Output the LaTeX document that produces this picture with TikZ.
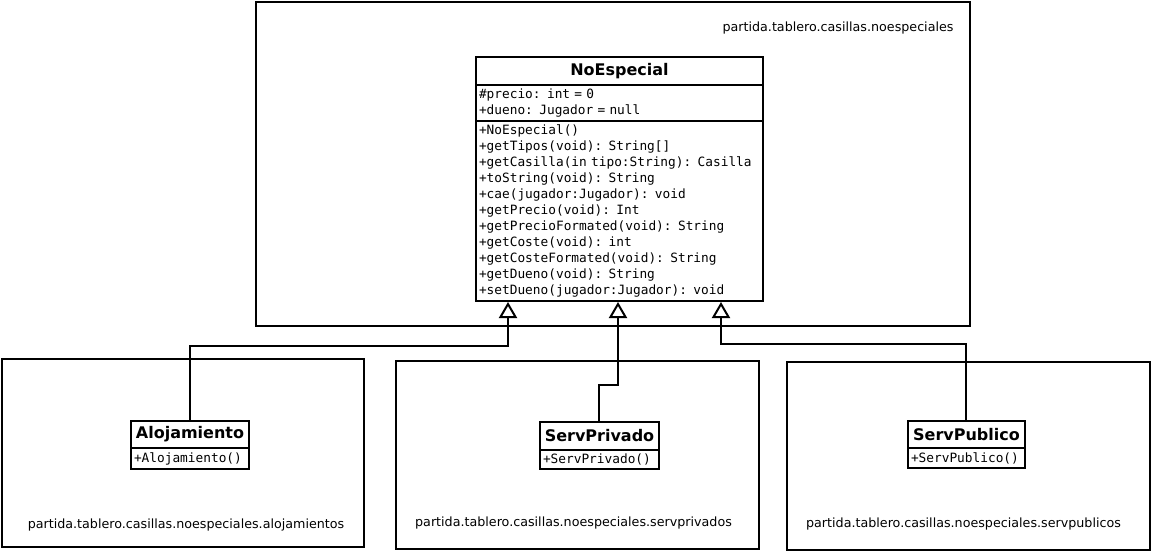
\documentclass[tikz,border=0pt]{standalone}
\usepackage{fontspec}
\setmainfont{DejaVu Sans}
\newfontfamily\umlmono{DejaVu Sans Mono}
\usetikzlibrary{arrows.meta}
\begin{document}
\begin{tikzpicture}[x=1pt,y=-1pt,
  pkg/.style={draw,line width=2pt,anchor=north west,inner sep=0pt},
  pkglabel/.style={font=\fontsize{12.7}{15}\selectfont,inner sep=0pt},
  ctitle/.style={draw,line width=2pt,anchor=north west,inner sep=0pt,font=\fontsize{16}{19}\selectfont\bfseries},
  cbody/.style={draw,line width=2pt,anchor=north west,inner xsep=3pt,inner ysep=0pt,align=left,font=\umlmono\fontsize{12.8}{16}\selectfont},
  inh/.style={line width=2pt,-{Triangle[open,length=16pt,width=18pt,line width=2pt]}}]
\useasboundingbox (0,0) rectangle (1152,552);
\fill[white] (0,0) rectangle (1152,552);
% packages
\node[pkg,minimum width=714pt,minimum height=324pt] (ptop) at (255,1) {};
\node[pkglabel] (ltop) at (838,28) {partida.tablero.casillas.noespeciales};
\node[pkg,minimum width=362pt,minimum height=188pt] (pleft) at (1,358) {};
\node[pkglabel] (lleft) at (186,525) {partida.tablero.casillas.noespeciales.alojamientos};
\node[pkg,minimum width=363pt,minimum height=188pt] (pmid) at (395,360) {};
\node[pkglabel] (lmid) at (573.5,523) {partida.tablero.casillas.noespeciales.servprivados};
\node[pkg,minimum width=363pt,minimum height=188pt] (pright) at (786,361) {};
\node[pkglabel] (lright) at (963.5,524) {partida.tablero.casillas.noespeciales.servpublicos};
% NoEspecial
\node[ctitle,minimum width=287pt,minimum height=28pt] (ne-t) at (475,56) {NoEspecial};
\node[cbody,minimum width=287pt,text width=281pt,minimum height=36pt] (ne-a) at (475,84) {\#precio: int = 0\\+dueno: Jugador = null};
\node[cbody,minimum width=287pt,text width=281pt,minimum height=180pt] (ne-m) at (475,120) {+NoEspecial()\\+getTipos(void): String[]\\+getCasilla(in tipo:String): Casilla\\+toString(void): String\\+cae(jugador:Jugador): void\\+getPrecio(void): Int\\+getPrecioFormated(void): String\\+getCoste(void): int\\+getCosteFormated(void): String\\+getDueno(void): String\\+setDueno(jugador:Jugador): void};
% Alojamiento
\node[ctitle,minimum width=118pt,minimum height=27pt] (al-t) at (130,420) {Alojamiento};
\node[cbody,minimum width=118pt,text width=112pt,minimum height=21pt] (al-m) at (130,447) {+Alojamiento()};
% ServPrivado
\node[ctitle,minimum width=119pt,minimum height=28pt] (sv-t) at (539,421) {ServPrivado};
\node[cbody,minimum width=119pt,text width=113pt,minimum height=19pt] (sv-m) at (539,449) {+ServPrivado()};
% ServPublico
\node[ctitle,minimum width=117pt,minimum height=27pt] (sp-t) at (907,420) {ServPublico};
\node[cbody,minimum width=117pt,text width=111pt,minimum height=20pt] (sp-m) at (907,447) {+ServPublico()};
% inheritance
\draw[inh] (al-t.north) -- (190,346) -- (508,346) -- ([xshift=33pt]ne-m.south west);
\draw[inh] ([xshift=60pt]sv-t.north west) -- (599,385) -- (618,385) -- ([xshift=143pt]ne-m.south west);
\draw[inh] ([xshift=59pt]sp-t.north west) -- (966,344) -- (721,344) -- ([xshift=246pt]ne-m.south west);
\end{tikzpicture}
\end{document}
